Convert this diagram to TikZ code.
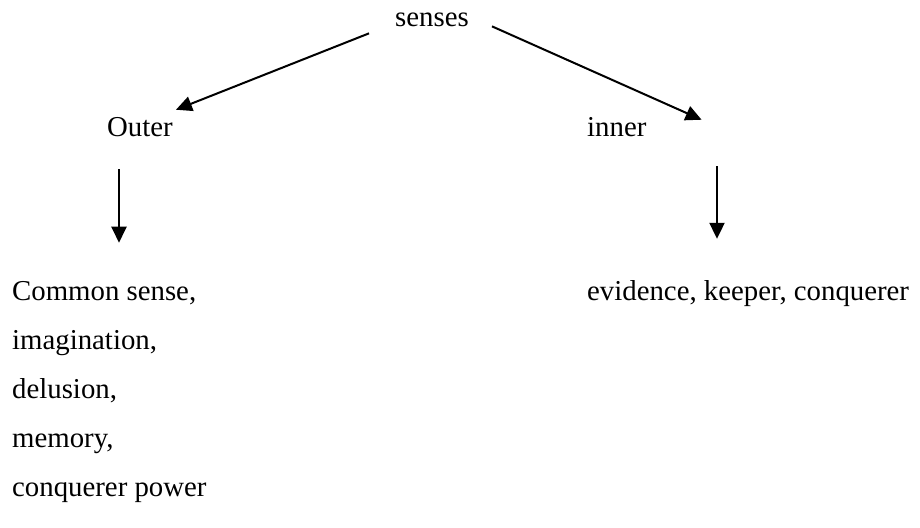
\documentclass[tikz,border=0pt]{standalone}
\usepackage{fontspec}
\setmainfont{Liberation Serif}
\usepackage{tikz}
\usetikzlibrary{arrows.meta}
\tikzset{
	wort/.style={inner sep=0pt, anchor=base west},
	pfeil/.style={line width=2pt, -{Triangle[length=16pt, width=15pt]}}
}

\begin{document}
\begin{tikzpicture}[x=1pt, y=-1pt, font=\fontsize{28.8}{34}\selectfont]
				\useasboundingbox (0,0) rectangle (920,527);
				% Begriffe
				\node[wort] (senses) at (395,27) {senses};
				\node[wort] (outer) at (107,136) {Outer};
				\node[wort] (inner) at (587,136) {inner};
				\node[wort] (evidence) at (587,300) {evidence, keeper, conquerer};
				% Liste links
				\foreach \txt [count=\i] in {{Common sense,},{imagination,},{delusion,},{memory,},{conquerer power}}
					\node[wort] (l\i) at (12,251+49*\i) {\txt};
				% Pfeile
				\draw[pfeil] ([shift={(-26,13)}]senses.west) -- ([shift={(3,-7)}]outer.north east);
				\draw[pfeil] ([shift={(23,6)}]senses.east) -- ([shift={(55,3)}]inner.north east);
				\draw[pfeil] ([shift={(12,33)}]outer.south west) -- ([shift={(107,-38)}]l1.north west);
				\draw[pfeil] ([shift={(130,30)}]inner.south west) -- ([shift={(130,-41)}]evidence.north west);
\end{tikzpicture}
\end{document}
